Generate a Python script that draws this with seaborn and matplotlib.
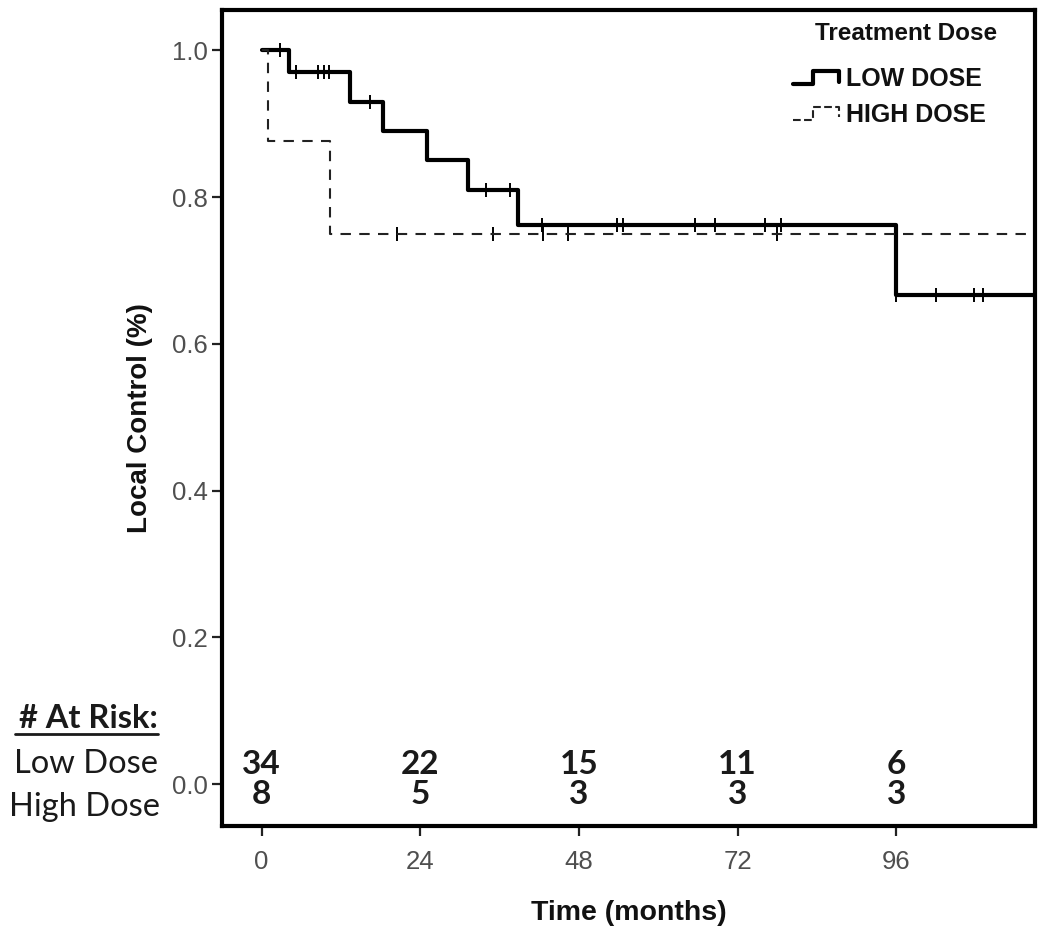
import numpy as np
import pandas as pd
import matplotlib
matplotlib.use("Agg")
import matplotlib.pyplot as plt
import seaborn as sns
from matplotlib.lines import Line2D
from matplotlib.legend_handler import HandlerBase

# ---- data ----
low_times = [0, 4.1, 13.3, 18.3, 25.0, 31.2, 38.8, 96.0, 117.0]
low_surv = [1.0, 0.970, 0.930, 0.890, 0.850, 0.810, 0.762, 0.667, 0.667]
low_censor = [2.7, 5.2, 8.5, 9.5, 10.2, 16.4, 34.0, 37.6, 42.4, 53.8, 54.7,
              65.6, 68.6, 76.2, 78.5, 96.0, 102.0, 107.7, 109.2]

high_times = [0, 0.9, 10.3, 117.0]
high_surv = [1.0, 0.876, 0.750, 0.750]
high_censor = [20.5, 35.0, 42.6, 46.4, 78.0]

risk_times = [0, 24, 48, 72, 96]
risk_low = [34, 22, 15, 11, 6]
risk_high = [8, 5, 3, 3, 3]

group_names = ["LOW DOSE", "HIGH DOSE"]


def step_value(times, surv, t):
    idx = np.searchsorted(times, t, side="right") - 1
    return surv[idx]


curves = pd.concat([
    pd.DataFrame({"time": low_times, "surv": low_surv, "group": group_names[0]}),
    pd.DataFrame({"time": high_times, "surv": high_surv, "group": group_names[1]}),
])
cens = pd.concat([
    pd.DataFrame({"time": low_censor,
                  "surv": [step_value(low_times, low_surv, t) for t in low_censor],
                  "group": group_names[0]}),
    pd.DataFrame({"time": high_censor,
                  "surv": [step_value(high_times, high_surv, t) for t in high_censor],
                  "group": group_names[1]}),
])

sns.set_style("white")
plt.rcParams["font.family"] = ["Liberation Sans", "DejaVu Sans"]

W, H = 1050, 934
fig = plt.figure(figsize=(10.5, 9.34), dpi=100)
ax = fig.add_axes([222 / W, 1 - 826 / H, 813 / W, 816 / H])

LOW_LW, HIGH_LW = 3.0, 1.5
HIGH_DASH = (0, (5, 4))

sub = curves[curves.group == group_names[0]]
sns.lineplot(data=sub, x="time", y="surv", ax=ax, drawstyle="steps-post",
             color="black", lw=LOW_LW, estimator=None, sort=False, legend=False)
sub = curves[curves.group == group_names[1]]
sns.lineplot(data=sub, x="time", y="surv", ax=ax, drawstyle="steps-post",
             color="#222222", lw=HIGH_LW, estimator=None, sort=False, legend=False)
ax.lines[-1].set_linestyle(HIGH_DASH)

sns.scatterplot(data=cens, x="time", y="surv", ax=ax, marker="|", s=90,
                color="black", linewidth=1.4, legend=False)

ax.set_xlim(-6, 117)
ax.set_ylim(-0.057, 1.055)
ax.set_xticks(risk_times)
yt = [0.0, 0.2, 0.4, 0.6, 0.8, 1.0]
ax.set_yticks(yt)
ax.set_yticklabels([f"{v:.1f}" for v in yt])
ax.tick_params(axis="both", which="major", bottom=True, left=True,
               direction="out", length=7, width=1.6, color="#222222",
               labelsize=18.5, labelcolor="#4f4f4f", pad=3)
ax.tick_params(axis="x", pad=10)
for s in ax.spines.values():
    s.set_linewidth(3)
    s.set_color("black")

ax.set_xlabel("Time (months)", fontsize=20.5, fontweight="bold", labelpad=19,
              color="#111111")
ax.set_ylabel("Local Control (%)", fontsize=20, fontweight="bold", labelpad=14,
              color="#111111")


# legend with step-shaped keys
class StepHandler(HandlerBase):
    def create_artists(self, legend, orig_handle, xdescent, ydescent,
                       width, height, fontsize, trans):
        x0 = -xdescent
        y0 = -ydescent + height * 0.1
        y1 = -ydescent + height * 0.85
        xs = [x0, x0 + width * 0.4, x0 + width * 0.4, x0 + width * 0.92,
              x0 + width * 0.92]
        ys = [y0, y0, y1, y1, y0 + height * 0.15]
        ln = Line2D(xs, ys, color=orig_handle.get_color(),
                    lw=orig_handle.get_linewidth(),
                    linestyle=orig_handle.get_linestyle())
        ln.set_transform(trans)
        return [ln]


fig.text(906 / W, 1 - 33 / H, "Treatment Dose", fontsize=17.5, fontweight="bold",
         color="#111111", ha="center", va="center")

handles = [Line2D([], [], color="black", lw=LOW_LW),
           Line2D([], [], color="#222222", lw=HIGH_LW, linestyle=(0, (3, 3)))]
leg = ax.legend(handles, group_names, loc="upper left",
                bbox_to_anchor=(793 / W, 1 - 67 / H),
                bbox_transform=fig.transFigure,
                frameon=False, fontsize=18, handlelength=2.0, handletextpad=0.1,
                borderaxespad=0.0, borderpad=0.0, labelspacing=0.47,
                handler_map={Line2D: StepHandler()})
for t in leg.get_texts():
    t.set_fontweight("bold")
    t.set_color("#111111")

# at-risk table
num_font = dict(fontsize=24, fontweight="bold", family=["Lato", "DejaVu Sans"],
                color="#1a1a1a", ha="center", va="baseline")
for t, lo, hi in zip(risk_times, risk_low, risk_high):
    ax.text(t, 0.0137, str(lo), **num_font)
    ax.text(t, -0.0273, str(hi), **num_font)

lab_font = dict(fontsize=23.5, family=["Lato", "DejaVu Sans"], color="#1a1a1a",
                ha="right", va="baseline")
fig.text(158 / W, 1 - 728 / H, "# At Risk:", fontweight="bold", **lab_font)
fig.add_artist(Line2D([15 / W, 158 / W], [1 - 734 / H, 1 - 734 / H],
                      color="#1a1a1a", lw=2.0, transform=fig.transFigure))
fig.text(158 / W, 1 - 773 / H, "Low Dose", **lab_font)
fig.text(160 / W, 1 - 816 / H, "High Dose", **lab_font)

fig.savefig("out.png", dpi=100)
